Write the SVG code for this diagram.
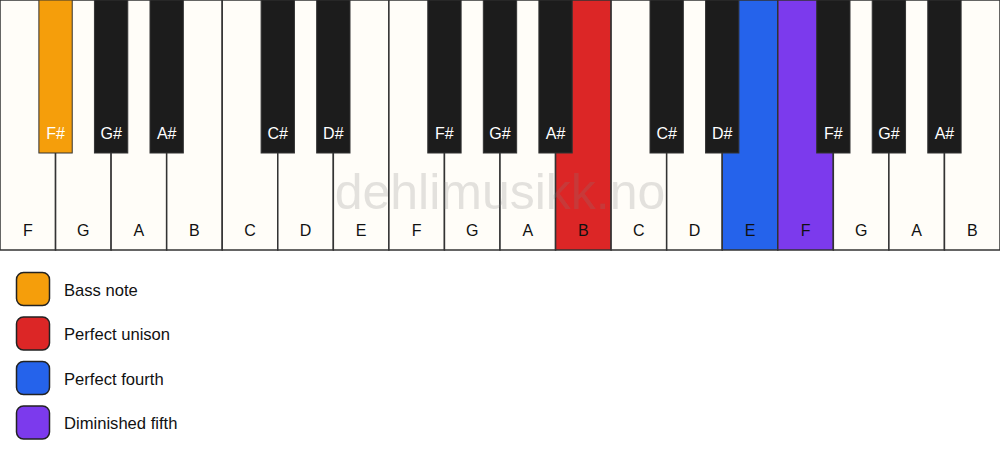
<svg xmlns="http://www.w3.org/2000/svg" width="1000" height="461" viewBox="0 0 1000 461">
<style>
.w{fill:#fffdf8;stroke:#333;stroke-width:1.5}
.b{fill:#1c1c1c;stroke:#333;stroke-width:1}
.wl{font-family:"Liberation Sans",Arial,sans-serif;font-size:16px;fill:#111;text-anchor:middle}
.bl{font-family:"Liberation Sans",Arial,sans-serif;font-size:16px;fill:#fff;text-anchor:middle}
.lg{stroke:#222;stroke-width:1.5}
.lt{font-family:"Liberation Sans",Arial,sans-serif;font-size:16.6px;fill:#111}
.wm{font-family:"Liberation Sans",Arial,sans-serif;font-size:50px;fill:#808080;fill-opacity:0.22;text-anchor:middle}
</style>
<rect width="1000" height="461" fill="#ffffff"/>
<g id="white-keys">
<rect class="w" x="0" y="0" width="55.56" height="250"/>
<rect class="w" x="55.56" y="0" width="55.56" height="250"/>
<rect class="w" x="111.11" y="0" width="55.56" height="250"/>
<rect class="w" x="166.67" y="0" width="55.56" height="250"/>
<rect class="w" x="222.22" y="0" width="55.56" height="250"/>
<rect class="w" x="277.78" y="0" width="55.56" height="250"/>
<rect class="w" x="333.33" y="0" width="55.56" height="250"/>
<rect class="w" x="388.89" y="0" width="55.56" height="250"/>
<rect class="w" x="444.44" y="0" width="55.56" height="250"/>
<rect class="w" x="500" y="0" width="55.56" height="250"/>
<rect class="w" x="555.56" y="0" width="55.56" height="250" style="fill:#dc2626"/>
<rect class="w" x="611.11" y="0" width="55.56" height="250"/>
<rect class="w" x="666.67" y="0" width="55.56" height="250"/>
<rect class="w" x="722.22" y="0" width="55.56" height="250" style="fill:#2563eb"/>
<rect class="w" x="777.78" y="0" width="55.56" height="250" style="fill:#7c3aed"/>
<rect class="w" x="833.33" y="0" width="55.56" height="250"/>
<rect class="w" x="888.89" y="0" width="55.56" height="250"/>
<rect class="w" x="944.44" y="0" width="55.56" height="250"/>
</g>
<g id="white-labels">
<text class="wl" x="27.78" y="236">F</text>
<text class="wl" x="83.33" y="236">G</text>
<text class="wl" x="138.89" y="236">A</text>
<text class="wl" x="194.44" y="236">B</text>
<text class="wl" x="250" y="236">C</text>
<text class="wl" x="305.56" y="236">D</text>
<text class="wl" x="361.11" y="236">E</text>
<text class="wl" x="416.67" y="236">F</text>
<text class="wl" x="472.22" y="236">G</text>
<text class="wl" x="527.78" y="236">A</text>
<text class="wl" x="583.33" y="236">B</text>
<text class="wl" x="638.89" y="236">C</text>
<text class="wl" x="694.44" y="236">D</text>
<text class="wl" x="750" y="236">E</text>
<text class="wl" x="805.56" y="236">F</text>
<text class="wl" x="861.11" y="236">G</text>
<text class="wl" x="916.67" y="236">A</text>
<text class="wl" x="972.22" y="236">B</text>
</g>
<g id="black-keys">
<rect class="b" x="38.89" y="0" width="33.33" height="153" style="fill:#f59e0b"/>
<rect class="b" x="94.44" y="0" width="33.33" height="153"/>
<rect class="b" x="150" y="0" width="33.33" height="153"/>
<rect class="b" x="261.11" y="0" width="33.33" height="153"/>
<rect class="b" x="316.67" y="0" width="33.33" height="153"/>
<rect class="b" x="427.78" y="0" width="33.33" height="153"/>
<rect class="b" x="483.33" y="0" width="33.33" height="153"/>
<rect class="b" x="538.89" y="0" width="33.33" height="153"/>
<rect class="b" x="650" y="0" width="33.33" height="153"/>
<rect class="b" x="705.56" y="0" width="33.33" height="153"/>
<rect class="b" x="816.67" y="0" width="33.33" height="153"/>
<rect class="b" x="872.22" y="0" width="33.33" height="153"/>
<rect class="b" x="927.78" y="0" width="33.33" height="153"/>
</g>
<g id="black-labels">
<text class="bl" x="55.56" y="139">F#</text>
<text class="bl" x="111.11" y="139">G#</text>
<text class="bl" x="166.67" y="139">A#</text>
<text class="bl" x="277.78" y="139">C#</text>
<text class="bl" x="333.33" y="139">D#</text>
<text class="bl" x="444.44" y="139">F#</text>
<text class="bl" x="500" y="139">G#</text>
<text class="bl" x="555.56" y="139">A#</text>
<text class="bl" x="666.67" y="139">C#</text>
<text class="bl" x="722.22" y="139">D#</text>
<text class="bl" x="833.33" y="139">F#</text>
<text class="bl" x="888.89" y="139">G#</text>
<text class="bl" x="944.44" y="139">A#</text>
</g>
<text class="wm" x="500" y="209">dehlimusikk.no</text>
<g id="legend-bass">
<rect class="lg" x="16.5" y="272.5" width="33" height="33" rx="7" fill="#f59e0b"/>
<text class="lt" x="64" y="295.5">Bass note</text>
</g>
<g id="legend-unison">
<rect class="lg" x="16.5" y="317" width="33" height="33" rx="7" fill="#dc2626"/>
<text class="lt" x="64" y="340">Perfect unison</text>
</g>
<g id="legend-fourth">
<rect class="lg" x="16.5" y="361.5" width="33" height="33" rx="7" fill="#2563eb"/>
<text class="lt" x="64" y="384.5">Perfect fourth</text>
</g>
<g id="legend-fifth">
<rect class="lg" x="16.5" y="406" width="33" height="33" rx="7" fill="#7c3aed"/>
<text class="lt" x="64" y="429">Diminished fifth</text>
</g>
</svg>
